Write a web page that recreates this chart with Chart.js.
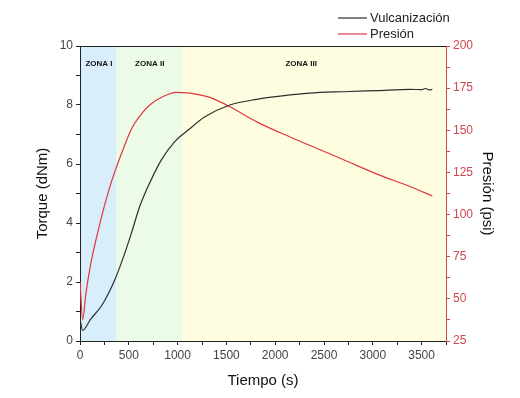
<!DOCTYPE html>
<html>
<head>
<meta charset="utf-8">
<script src="https://cdn.jsdelivr.net/npm/chart.js"></script>
<style>
  body { margin: 0; background: #fff; }
</style>
</head>
<body>
<canvas id="curado" width="520" height="398"></canvas>
<script>
// torque (dNm) vs tiempo (s)
const torqueTime = [0, 26, 111, 214, 290, 360, 440, 526, 611, 720, 834, 971, 1108, 1280, 1536, 1811, 2153, 2461, 2701, 3044, 3387, 3500, 3540, 3580, 3610];
const torque = [0.75, 0.36, 0.75, 1.16, 1.6, 2.1, 2.8, 3.65, 4.55, 5.4, 6.14, 6.76, 7.15, 7.6, 8.0, 8.19, 8.34, 8.43, 8.45, 8.49, 8.53, 8.52, 8.56, 8.51, 8.53];

// presion (psi) vs tiempo (s)
const presTime = [0, 28, 60, 111, 180, 248, 317, 385, 457, 530, 600, 714, 851, 989, 1125, 1228, 1331, 1536, 1811, 2153, 2358, 2701, 3044, 3387, 3610];
const presion = [60, 37.5, 53, 71, 89, 104.7, 118.5, 130, 141, 151, 157.5, 165, 170, 172.5, 172, 171, 169.5, 164, 155, 146, 141, 132.5, 124, 116.5, 111];

const zoneEdges = [0, 375, 1050, 3750];
const zoneNames = ["ZONA I", "ZONA II", "ZONA III"];
const zoneLabelAt = [195, 714, 2266];
const zoneColors = ["#d9eefb", "#ebfbe7", "#fefde0"];

const seriesNames = ["Vulcanización", "Presión"];
const seriesColors = ["#2e2e2e", "#e2373d"];

const zonas = {
    id: "zonas",
    beforeDraw(chart) {
        const {ctx, chartArea, scales} = chart;
        ctx.save();
        for (let i = 0; i < zoneNames.length; i++) {
            const x0 = scales.x.getPixelForValue(zoneEdges[i]);
            const x1 = scales.x.getPixelForValue(zoneEdges[i + 1]);
            ctx.fillStyle = zoneColors[i];
            ctx.fillRect(x0, chartArea.top, x1 - x0, chartArea.bottom - chartArea.top);
        }
        ctx.fillStyle = "#111";
        ctx.font = "bold 8px 'Liberation Sans', Arial, sans-serif";
        ctx.textAlign = "center";
        ctx.textBaseline = "middle";
        zoneNames.forEach((z, i) => {
            ctx.fillText(z, scales.x.getPixelForValue(zoneLabelAt[i]), chartArea.top + 18);
        });
        ctx.restore();
    },
    afterDraw(chart) {
        const {ctx, chartArea} = chart;
        ctx.save();
        // marco superior
        ctx.strokeStyle = "#222";
        ctx.lineWidth = 1;
        ctx.beginPath();
        ctx.moveTo(chartArea.left, chartArea.top + 0.5);
        ctx.lineTo(chartArea.right, chartArea.top + 0.5);
        ctx.stroke();
        // leyenda
        ctx.font = "13px 'Liberation Sans', Arial, sans-serif";
        ctx.textBaseline = "middle";
        ctx.textAlign = "left";
        seriesNames.forEach((n, i) => {
            const y = 18 + i * 16;
            ctx.strokeStyle = seriesColors[i];
            ctx.lineWidth = 1.2;
            ctx.beginPath();
            ctx.moveTo(338, y);
            ctx.lineTo(367, y);
            ctx.stroke();
            ctx.fillStyle = "#222";
            ctx.fillText(n, 370, y);
        });
        ctx.restore();
    }
};

const font = "'Liberation Sans', Arial, sans-serif";

new Chart("curado", {
    type: "line",
    data: {
        datasets: [{
            label: seriesNames[0],
            data: torqueTime.map((t, i) => ({x: t, y: torque[i]})),
            borderColor: seriesColors[0],
            borderWidth: 1.2,
            pointRadius: 0,
            cubicInterpolationMode: "monotone",
            yAxisID: "y"
        }, {
            label: seriesNames[1],
            data: presTime.map((t, i) => ({x: t, y: presion[i]})),
            borderColor: seriesColors[1],
            borderWidth: 1.2,
            pointRadius: 0,
            cubicInterpolationMode: "monotone",
            yAxisID: "y2"
        }]
    },
    options: {
        responsive: false,
        animation: false,
        layout: { padding: { top: 46 } },
        plugins: {
            legend: { display: false },
            tooltip: { enabled: false }
        },
        scales: {
            x: {
                type: "linear",
                min: 0,
                max: 3750,
                afterFit: s => { s.height = 57; },
                ticks: {
                    stepSize: 250,
                    autoSkip: false,
                    maxRotation: 0,
                    padding: 3,
                    color: "#444",
                    font: { family: font, size: 12 },
                    callback: v => v % 500 === 0 ? v : ""
                },
                grid: { drawOnChartArea: false, tickLength: 4, color: "#222" },
                border: { color: "#222" },
                title: {
                    display: true,
                    text: "Tiempo (s)",
                    color: "#111",
                    font: { family: font, size: 15 },
                    padding: { top: 0, bottom: 8 }
                }
            },
            y: {
                position: "left",
                min: 0,
                max: 10,
                afterFit: s => { s.width = 80; },
                ticks: {
                    stepSize: 1,
                    autoSkip: false,
                    padding: 3,
                    color: "#444",
                    font: { family: font, size: 12 },
                    callback: v => v % 2 === 0 ? v : ""
                },
                grid: { drawOnChartArea: false, tickLength: 4, color: "#222" },
                border: { color: "#222" },
                title: {
                    display: true,
                    text: "Torque (dNm)",
                    color: "#111",
                    font: { family: font, size: 15 },
                    padding: { top: 34, bottom: 0 }
                }
            },
            y2: {
                position: "right",
                min: 25,
                max: 200,
                afterFit: s => { s.width = 74; },
                ticks: {
                    stepSize: 12.5,
                    autoSkip: false,
                    padding: 3,
                    color: "#d0474f",
                    font: { family: font, size: 12 },
                    callback: v => (v - 25) % 25 === 0 ? v : ""
                },
                grid: { drawOnChartArea: false, tickLength: 4, color: "#d0474f" },
                border: { color: "#d0474f" },
                title: {
                    display: true,
                    text: "Presión (psi)",
                    color: "#111",
                    font: { family: font, size: 15 },
                    padding: { top: 24, bottom: 0 }
                }
            }
        }
    },
    plugins: [zonas]
});
</script>
</body>
</html>
